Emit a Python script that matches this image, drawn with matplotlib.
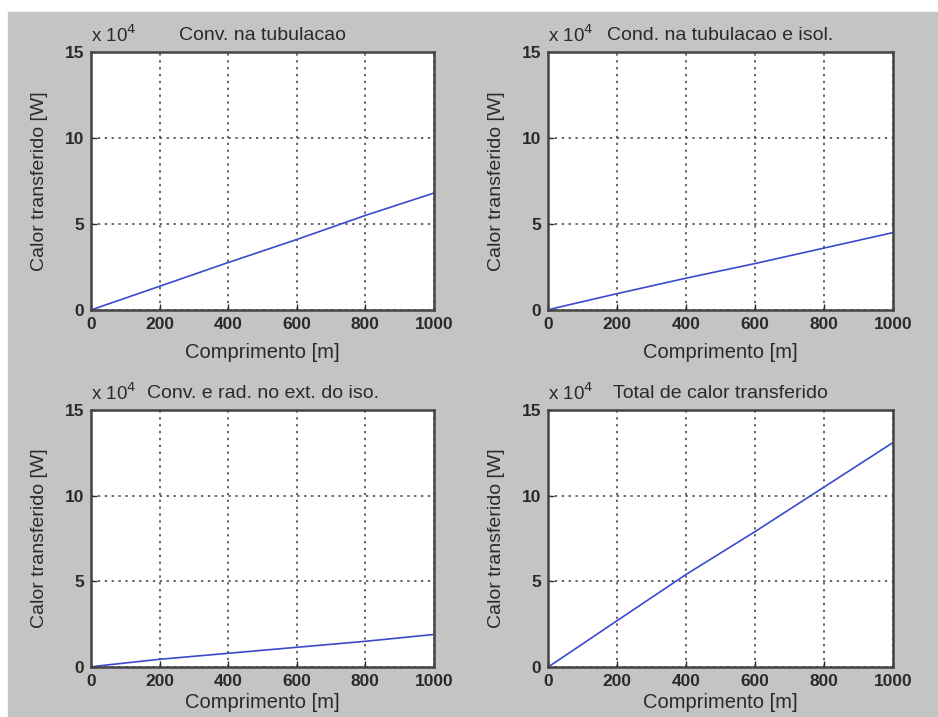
import matplotlib
matplotlib.use("Agg")
import matplotlib.pyplot as plt
from matplotlib.patches import Rectangle
from matplotlib.ticker import FuncFormatter

plt.rcParams["font.family"] = ["Liberation Sans", "DejaVu Sans"]

# comprimento [m] e calor transferido [W]
comprimento = [0, 20, 200, 400, 600, 800, 1000]
q_conv_tub = [0, 1400, 13800, 27600, 41000, 55000, 68000]
q_cond_tub_isol = [0, 1100, 9500, 18500, 27000, 36000, 45000]
q_conv_rad_ext = [0, 600, 4500, 8000, 11500, 15000, 19000]
q_total = [0, 2600, 27000, 54000, 79000, 105000, 131000]

titulos = ["Conv. na tubulacao", "Cond. na tubulacao e isol.",
           "Conv. e rad. no ext. do iso.", "Total de calor transferido"]
series = [q_conv_tub, q_cond_tub_isol, q_conv_rad_ext, q_total]

W, H = 938, 717
fig = plt.figure(figsize=(W / 100, H / 100), dpi=100, facecolor="white")
fig.patches.append(Rectangle((8 / W, 0), 1 - 8 / W, 1 - 12 / H,
                             transform=fig.transFigure, color="#c4c4c4", zorder=-5))

# posicoes em pixels: (esq, dir, topo, base)
caixas = [(91, 434, 52, 310), (548, 893, 52, 310),
          (91, 434, 410, 667), (548, 893, 410, 667)]

txt = "#2a2a2a"
sci = FuncFormatter(lambda v, p: f"{v / 1e4:g}")
for i, ((l, r, t, b), titulo, q) in enumerate(zip(caixas, titulos, series)):
    ax = fig.add_axes([l / W, 1 - b / H, (r - l) / W, (b - t) / H])
    ax.plot(comprimento, q, color="#3a4acc", lw=1.2)
    ax.set_xlim(0, 1000)
    ax.set_ylim(0, 150000)
    ax.set_xticks(range(0, 1001, 200))
    ax.set_yticks([0, 50000, 100000, 150000])
    ax.yaxis.set_major_formatter(sci)
    ax.grid(True, color="#3a3a3a", linestyle=(0, (1.5, 3.0)), lw=1.1)
    ax.tick_params(direction="in", length=4, width=1, colors=txt,
                   labelsize=12.5, pad=5)
    for lab in ax.get_xticklabels() + ax.get_yticklabels():
        lab.set_fontweight("bold")
    for s in ax.spines.values():
        s.set_color("#444444")
        s.set_linewidth(1.8)
    # linha de baixo: rotulo fica rente a borda da figura
    ax.set_xlabel("Comprimento [m]", fontsize=14.5, color=txt,
                  labelpad=8 if i < 2 else 3)
    ax.set_ylabel("Calor transferido [W]", fontsize=14, color=txt, labelpad=12)
    ax.set_title(titulo, fontsize=14, color=txt, pad=9)
    ax.text(0.0, 1.038, r"x 10$^4$", transform=ax.transAxes, fontsize=13.5,
            color=txt, ha="left", va="baseline")

fig.savefig("out.png", dpi=100, facecolor=fig.get_facecolor())
